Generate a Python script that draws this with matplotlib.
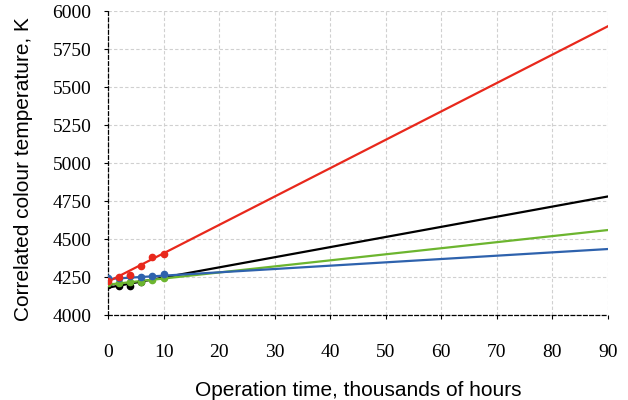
import matplotlib
matplotlib.use('Agg')
import matplotlib.pyplot as plt
import numpy as np


# DATA
hours = [0, 2, 4, 6, 8, 10]

black_pts = [4197, 4191, 4192, 4215, None, None]
green_pts = [4208, 4212, 4214, 4219, 4230, 4241]
blue_pts = [4241, 4245, 4259, 4248, 4259, 4270]
red_pts = [4222, 4252, 4262, 4325, 4383, 4400]

trend_x = [0, 90]
black_trend = [4180, 4780]
green_trend = [4200, 4559]
blue_trend = [4237, 4434]
red_trend = [4219, 5900]

x_ticks = [0, 10, 20, 30, 40, 50, 60, 70, 80, 90]
y_ticks = [4000, 4250, 4500, 4750, 5000, 5250, 5500, 5750, 6000]

BLACK = '#000000'
GREEN = '#6cb52f'
BLUE = '#2e62ad'
RED = '#e8281c'


fig = plt.figure(figsize=(6.28, 4.0), dpi=100)
ax = fig.add_axes([108/628, 85/400, 500/628, 304/400])

series = [
    (black_pts, black_trend, BLACK),
    (green_pts, green_trend, GREEN),
    (blue_pts, blue_trend, BLUE),
    (red_pts, red_trend, RED),
]

for pts, trend, col in series:
    xs = [h for h, v in zip(hours, pts) if v is not None]
    ys = [v for v in pts if v is not None]
    ax.plot(trend_x, trend, color=col, linewidth=1.6, zorder=3)
    ax.plot(xs, ys, 'o', color=col, markersize=4.5, zorder=4)

ax.set_xlim(0, 90)
ax.set_ylim(4000, 6000)
ax.set_xticks(x_ticks)
ax.set_yticks(y_ticks)

ax.grid(True, color='#d0d0d0', linestyle=(0, (3, 2)), linewidth=0.8, zorder=0)
ax.set_axisbelow(True)

for side in ['top', 'right']:
    ax.spines[side].set_visible(False)
for side in ['left', 'bottom']:
    ax.spines[side].set_linestyle((0, (3, 2)))
    ax.spines[side].set_linewidth(0.9)

ax.tick_params(axis='y', length=3, width=0.8, pad=9)
ax.tick_params(axis='x', length=3, width=0.8, pad=18)
for lab in ax.get_xticklabels() + ax.get_yticklabels():
    lab.set_family('Liberation Serif')
    lab.set_fontsize(14)

ax.set_xlabel('Operation time, thousands of hours', fontsize=15,
              family='Liberation Sans', labelpad=14)
ax.set_ylabel('Correlated colour temperature, K', fontsize=15,
              family='Liberation Sans')
ax.yaxis.set_label_coords(-0.15, 0.48)

fig.savefig('out.png', dpi=100)
